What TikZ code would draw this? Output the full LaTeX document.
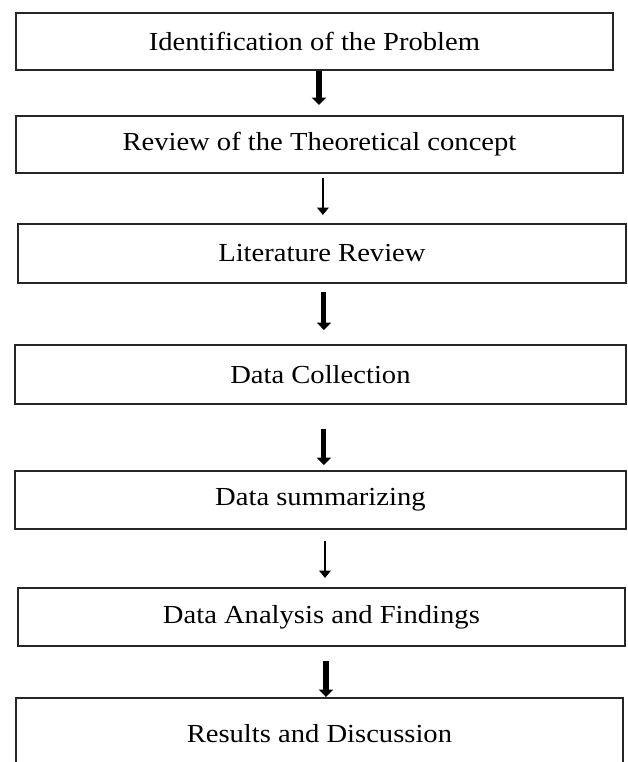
\documentclass[tikz,border=0pt]{standalone}
\usepackage{fontspec}
\setmainfont{Liberation Serif}
\usetikzlibrary{positioning,arrows.meta}

\begin{document}
\begin{tikzpicture}[
  x=0.75pt, y=-0.75pt,
  stage/.style={draw=black!85, line width=1.4pt, anchor=north west, minimum height=43pt,
    inner sep=0pt, font=\fontsize{19.5}{22}\selectfont\addfontfeature{FakeStretch=1.1}},
  heavy/.style={line width=3.8pt, -{Triangle[length=5.5pt, width=10.5pt]}},
  light/.style={line width=2.1pt, -{Triangle[length=5.5pt, width=8.5pt]}}
]
\useasboundingbox (0,0) rectangle (627,762);
\node[stage, minimum width=447.75pt] (prob) at (15,12) {Identification of the Problem};
\node[stage, minimum width=455.25pt] (theo) at (15,115) {Review of the Theoretical concept};
\node[stage, minimum width=456pt, minimum height=44.25pt] (lit) at (17,223) {Literature Review};
\node[stage, minimum width=458.25pt, minimum height=44.25pt] (coll) at (14,344) {Data Collection};
\node[stage, minimum width=458.25pt, minimum height=43.5pt] (summ) at (14,470) {Data summarizing};
\node[stage, minimum width=455.25pt, minimum height=43.5pt] (anal) at (17,587) {Data Analysis and Findings};
\node[stage, minimum width=455.25pt, minimum height=54pt] (res) at (15,697) {Results and Discussion};
\draw[heavy, shorten >=7.5pt] ([xshift=3.4pt]prob.south) -- ([xshift=3.4pt]prob.south |- theo.north);
\draw[light, shorten <=3pt, shorten >=6pt] ([xshift=2.6pt]theo.south) -- ([xshift=2.6pt]theo.south |- lit.north);
\draw[heavy, shorten <=6pt, shorten >=10.5pt] ([xshift=1.5pt]lit.south) -- ([xshift=1.5pt]lit.south |- coll.north);
\draw[heavy, shorten <=18pt, shorten >=3.75pt] ([xshift=2.6pt]coll.south) -- ([xshift=2.6pt]coll.south |- summ.north);
\draw[light, shorten <=8.25pt, shorten >=6.75pt] ([xshift=3.4pt]summ.south) -- ([xshift=3.4pt]summ.south |- anal.north);
\draw[heavy, shorten <=10.5pt] ([xshift=3.4pt]anal.south) -- ([xshift=3.4pt]anal.south |- res.north);
\end{tikzpicture}
\end{document}
